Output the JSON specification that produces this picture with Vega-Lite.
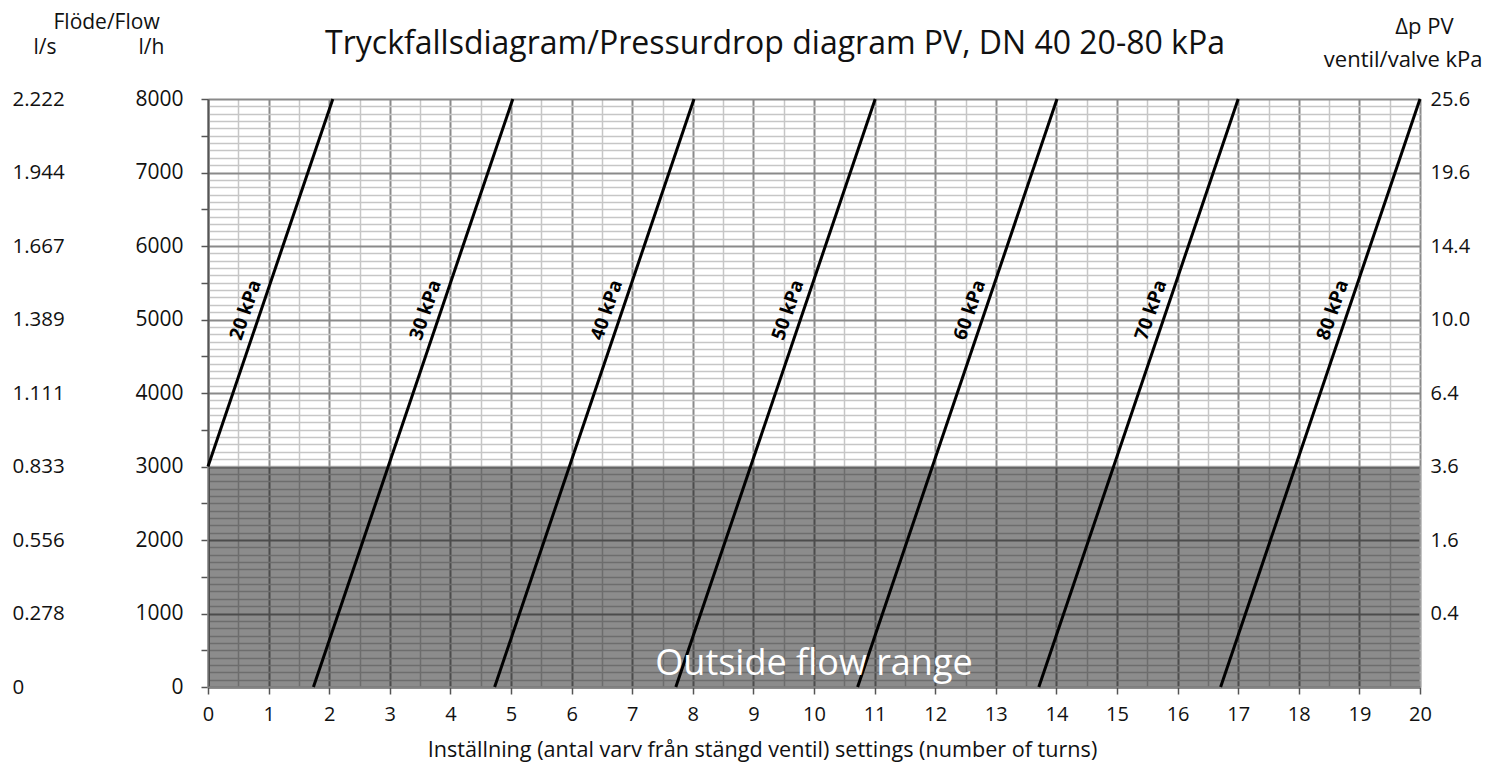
{
  "$schema": "https://vega.github.io/schema/vega-lite/v6.json",
  "width": 1212,
  "height": 588,
  "autosize": {"type": "none"},
  "padding": {"left": 208, "top": 99, "right": 69, "bottom": 87},
  "background": "white",
  "title": {
    "text": "Tryckfallsdiagram/Pressurdrop diagram PV, DN 40 20-80 kPa",
    "fontSize": 32,
    "fontWeight": "normal",
    "font": "Open Sans",
    "color": "#111",
    "anchor": "middle",
    "frame": "group",
    "dx": -39,
    "dy": 54
  },
  "datasets": {
    "zone": [{"turns": 0, "turns2": 20, "flow": 0, "flow2": 3000}],
    "lines": [
      {"series": "20 kPa", "turns": 0, "flow": 3000},
      {"series": "20 kPa", "turns": 2.06, "flow": 8000},
      {"series": "30 kPa", "turns": 1.74, "flow": 0},
      {"series": "30 kPa", "turns": 5.03, "flow": 8000},
      {"series": "40 kPa", "turns": 4.73, "flow": 0},
      {"series": "40 kPa", "turns": 8.02, "flow": 8000},
      {"series": "50 kPa", "turns": 7.72, "flow": 0},
      {"series": "50 kPa", "turns": 11.01, "flow": 8000},
      {"series": "60 kPa", "turns": 10.72, "flow": 0},
      {"series": "60 kPa", "turns": 14.01, "flow": 8000},
      {"series": "70 kPa", "turns": 13.71, "flow": 0},
      {"series": "70 kPa", "turns": 17.0, "flow": 8000},
      {"series": "80 kPa", "turns": 16.71, "flow": 0},
      {"series": "80 kPa", "turns": 20.0, "flow": 8000}
    ],
    "labels": [
      {"label": "20 kPa", "turns": 0.62, "flow": 5130},
      {"label": "30 kPa", "turns": 3.59, "flow": 5130},
      {"label": "40 kPa", "turns": 6.58, "flow": 5130},
      {"label": "50 kPa", "turns": 9.57, "flow": 5130},
      {"label": "60 kPa", "turns": 12.57, "flow": 5130},
      {"label": "70 kPa", "turns": 15.56, "flow": 5130},
      {"label": "80 kPa", "turns": 18.56, "flow": 5130}
    ],
    "note": [{"text": "Outside flow range", "turns": 10, "flow": 165}]
  },
  "encoding": {
    "x": {
      "field": "turns",
      "type": "quantitative",
      "scale": {"domain": [0, 20], "nice": false, "zero": false},
      "axis": {
        "orient": "bottom",
        "values": [0,0.5,1,1.5,2,2.5,3,3.5,4,4.5,5,5.5,6,6.5,7,7.5,8,8.5,9,9.5,10,10.5,11,11.5,12,12.5,13,13.5,14,14.5,15,15.5,16,16.5,17,17.5,18,18.5,19,19.5,20],
        "labelExpr": "datum.value % 1 === 0 ? format(datum.value, 'd') : ''",
        "labelFontSize": 20,
        "labelPadding": 10,
        "labelColor": "#111",
        "labelFlush": false,
        "labelOverlap": false,
        "tickSize": 7,
        "tickWidth": 1.5,
        "tickColor": "#555",
        "tickOpacity": {"condition": {"test": "datum.value % 1 === 0", "value": 1}, "value": 0},
        "domainColor": "#555",
        "domainWidth": 2,
        "grid": true,
        "gridColor": {"condition": {"test": "datum.value % 1 === 0", "value": "#8a8a8a"}, "value": "#c6c6c6"},
        "gridWidth": {"condition": {"test": "datum.value % 1 === 0", "value": 2}, "value": 1.5},
        "gridOpacity": 1,
        "title": "Inställning (antal varv från stängd ventil) settings (number of turns)",
        "titleFontSize": 21.6,
        "titleFontWeight": "normal",
        "titleColor": "#111",
        "titleX": 554,
        "titleY": 69,
        "titleBaseline": "alphabetic",
        "titleAlign": "center"
      }
    }
  },
  "layer": [
    {
      "data": {"name": "zone"},
      "mark": {"type": "rect", "fill": "#000", "fillOpacity": 0.45, "stroke": "#b0b0b0", "strokeWidth": 2, "strokeOpacity": 0.5},
      "encoding": {
        "x2": {"field": "turns2"},
        "y": {
          "field": "flow",
          "type": "quantitative",
          "scale": {"domain": [0, 8000], "nice": false},
          "axis": {
            "orient": "left",
            "values": [0,100,200,300,400,500,600,700,800,900,1000,1100,1200,1300,1400,1500,1600,1700,1800,1900,2000,2100,2200,2300,2400,2500,2600,2700,2800,2900,3000,3100,3200,3300,3400,3500,3600,3700,3800,3900,4000,4100,4200,4300,4400,4500,4600,4700,4800,4900,5000,5100,5200,5300,5400,5500,5600,5700,5800,5900,6000,6100,6200,6300,6400,6500,6600,6700,6800,6900,7000,7100,7200,7300,7400,7500,7600,7700,7800,7900,8000],
            "labelExpr": "datum.value % 1000 === 0 ? format(datum.value, 'd') : ''",
            "labelFontSize": 21,
            "labelPadding": 18,
            "labelColor": "#111",
            "labelFlush": false,
            "labelOverlap": false,
            "labelBaseline": "middle",
            "tickSize": 7,
            "tickWidth": 1.5,
            "tickColor": "#555",
            "tickOpacity": {"condition": {"test": "datum.value % 500 === 0", "value": 1}, "value": 0},
            "domainColor": "#555",
            "domainWidth": 2,
            "grid": true,
            "gridColor": {"condition": {"test": "datum.value % 1000 === 0", "value": "#8a8a8a"}, "value": "#c6c6c6"},
            "gridWidth": {"condition": {"test": "datum.value % 1000 === 0", "value": 2}, "value": 1.5},
            "title": "l/h",
            "titleFontSize": 21,
            "titleFontWeight": "normal",
            "titleColor": "#111",
            "titleAngle": 0,
            "titleAlign": "left",
            "titleBaseline": "alphabetic",
            "titleX": -70,
            "titleY": -46
          }
        },
        "y2": {"field": "flow2"}
      }
    },
    {
      "data": {"name": "lines"},
      "mark": {"type": "line", "color": "#000", "strokeWidth": 3},
      "encoding": {
        "detail": {"field": "series"},
        "y": {
          "field": "flow",
          "type": "quantitative",
          "scale": {"domain": [0, 8000], "nice": false},
          "axis": {
            "orient": "left",
            "offset": 196,
            "values": [0,1000,2000,3000,4000,5000,6000,7000,8000],
            "labelExpr": "datum.value === 0 ? '0' : format(datum.value / 3600, '.3f')",
            "labelFontSize": 20.5,
            "labelAlign": "left",
            "labelPadding": 0,
            "labelColor": "#111",
            "labelFlush": false,
            "labelOverlap": false,
            "labelBaseline": "middle",
            "ticks": false,
            "domain": false,
            "grid": false,
            "title": "l/s",
            "titleFontSize": 21,
            "titleFontWeight": "normal",
            "titleColor": "#111",
            "titleAngle": 0,
            "titleAlign": "left",
            "titleBaseline": "alphabetic",
            "titleX": 21,
            "titleY": -46
          }
        }
      }
    },
    {
      "data": {"name": "labels"},
      "transform": [{"filter": "datum.turns < 10"}],
      "mark": {"type": "text", "font": "Open Sans", "fontSize": 19, "fontWeight": "bold", "color": "#000", "angle": -71, "align": "center", "baseline": "middle"},
      "encoding": {
        "text": {"field": "label"},
        "y": {
          "field": "flow",
          "type": "quantitative",
          "scale": {"domain": [0, 8000], "nice": false},
          "axis": {
            "orient": "right",
            "values": [1000,2000,3000,4000,5000,6000,7000,8000],
            "labelExpr": "format(datum.value * datum.value * 4e-7, '.1f')",
            "labelFontSize": 20,
            "labelPadding": 10,
            "labelColor": "#111",
            "labelFlush": false,
            "labelOverlap": false,
            "labelBaseline": "middle",
            "ticks": false,
            "domain": false,
            "grid": false,
            "title": "ventil/valve kPa",
            "titleFontSize": 22,
            "titleFontWeight": "normal",
            "titleColor": "#111",
            "titleAngle": 0,
            "titleAlign": "right",
            "titleBaseline": "alphabetic",
            "titleX": 62,
            "titleY": -33
          }
        }
      }
    },
    {
      "data": {"name": "labels"},
      "transform": [{"filter": "datum.turns >= 10"}],
      "mark": {"type": "text", "font": "Open Sans", "fontSize": 19, "fontWeight": "bold", "color": "#000", "angle": -71, "align": "center", "baseline": "middle"},
      "encoding": {
        "text": {"field": "label"},
        "y": {
          "field": "flow",
          "type": "quantitative",
          "scale": {"domain": [0, 8000], "nice": false},
          "axis": {
            "orient": "right",
            "labels": false,
            "ticks": false,
            "domain": false,
            "grid": false,
            "title": "Δp PV",
            "titleFontSize": 22,
            "titleFontWeight": "normal",
            "titleColor": "#111",
            "titleAngle": 0,
            "titleAlign": "right",
            "titleBaseline": "alphabetic",
            "titleX": 33,
            "titleY": -66
          }
        }
      }
    },
    {
      "data": {"name": "note"},
      "mark": {"type": "text", "font": "Open Sans", "fontSize": 36, "color": "white", "align": "center", "baseline": "alphabetic"},
      "encoding": {
        "text": {"field": "text"},
        "y": {
          "field": "flow",
          "type": "quantitative",
          "scale": {"domain": [0, 8000], "nice": false},
          "axis": {
            "orient": "left",
            "labels": false,
            "ticks": false,
            "domain": false,
            "grid": false,
            "title": "Flöde/Flow",
            "titleFontSize": 21,
            "titleFontWeight": "normal",
            "titleColor": "#111",
            "titleAngle": 0,
            "titleAlign": "left",
            "titleBaseline": "alphabetic",
            "titleX": -155,
            "titleY": -71
          }
        }
      }
    }
  ],
  "resolve": {"scale": {"y": "independent"}},
  "config": {
    "font": "Open Sans",
    "view": {"stroke": null},
    "axis": {"labelFont": "Open Sans", "titleFont": "Open Sans"}
  }
}
